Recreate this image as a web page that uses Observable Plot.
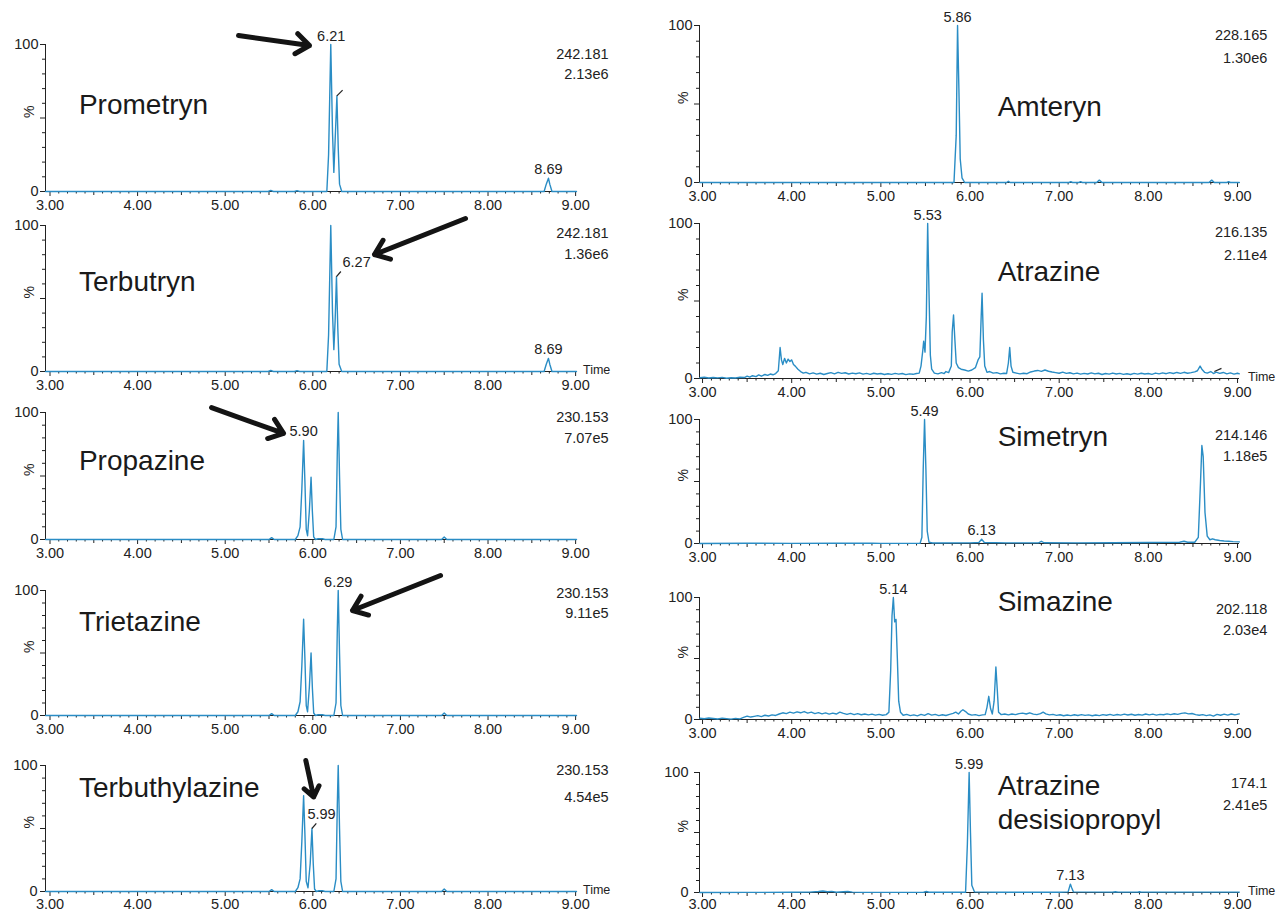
<!DOCTYPE html>
<html>
<head>
<meta charset="utf-8">
<script src="https://cdn.jsdelivr.net/npm/d3@7"></script>
<script src="https://cdn.jsdelivr.net/npm/@observablehq/plot@0.6"></script>
<style>
  body { margin: 0; background: #fff; }
  #chart { position: relative; width: 1278px; height: 915px; overflow: hidden; background: #fff; }
  #chart svg { position: absolute; overflow: visible; }
</style>
</head>
<body>
<div id="chart"></div>
<script>
// ---------------- DATA ----------------
const compounds = [["Prometryn"], ["Terbutryn"], ["Propazine"], ["Trietazine"], ["Terbuthylazine"],
                   ["Amteryn"], ["Atrazine"], ["Simetryn"], ["Simazine"], ["Atrazine", "desisiopropyl"]];
const mzValues = ["242.181", "242.181", "230.153", "230.153", "230.153", "228.165", "216.135", "214.146", "202.118", "174.1"];
const intensities = ["2.13e6", "1.36e6", "7.07e5", "9.11e5", "4.54e5", "1.30e6", "2.11e4", "1.18e5", "2.03e4", "2.41e5"];
const timeTicks = [3, 4, 5, 6, 7, 8, 9];
const percentTicks = [0, 100];

// traces: [retention time (min), relative intensity (%)]
const prometryn = [[2.95,0],[5.49,0],[5.52,0.7],[5.55,0],[5.79,0],[5.82,0.6],[5.85,0],[6.16,0],[6.18,25],[6.205,100],[6.225,40],[6.24,13],[6.255,35],[6.275,65],[6.29,30],[6.305,5],[6.33,0],[8.64,0],[8.665,5],[8.69,9],[8.705,5],[8.73,0],[9.01,0]];
const terbutryn = [[2.95,0],[5.49,0],[5.52,0.7],[5.55,0],[5.79,0],[5.82,0.6],[5.85,0],[6.16,0],[6.18,25],[6.205,100],[6.225,40],[6.24,15],[6.255,35],[6.27,65],[6.285,30],[6.30,5],[6.33,0],[8.64,0],[8.665,5],[8.69,9],[8.705,5],[8.73,0],[9.01,0]];
const propazine = [[2.95,0],[5.50,0],[5.53,1.5],[5.56,0],[5.80,0],[5.83,3],[5.855,10],[5.875,40],[5.895,78],[5.91,45],[5.925,8],[5.94,3],[5.96,22],[5.98,49],[5.995,22],[6.01,2],[6.03,0],[6.06,0.6],[6.11,0.6],[6.14,0],[6.24,0],[6.265,10],[6.28,70],[6.29,100],[6.305,50],[6.32,8],[6.34,0],[7.47,0],[7.50,2],[7.53,0],[9.01,0]];
const trietazine = [[2.95,0],[5.50,0],[5.53,1.5],[5.56,0],[5.80,0],[5.83,3],[5.855,11],[5.875,40],[5.895,77],[5.91,45],[5.925,8],[5.94,3],[5.96,22],[5.98,50],[5.995,22],[6.01,2],[6.03,0],[6.06,0.6],[6.11,0.6],[6.14,0],[6.24,0],[6.265,10],[6.28,70],[6.29,100],[6.305,50],[6.32,8],[6.34,0],[7.47,0],[7.50,2],[7.53,0],[9.01,0]];
const terbuthylazine = [[2.95,0],[5.50,0],[5.53,1.5],[5.56,0],[5.80,0],[5.83,3],[5.855,10],[5.875,40],[5.895,76],[5.91,45],[5.925,8],[5.945,3],[5.97,22],[5.99,50],[6.005,22],[6.02,2],[6.04,0],[6.07,0.6],[6.11,0.6],[6.14,0],[6.24,0],[6.265,10],[6.28,70],[6.29,100],[6.305,50],[6.32,8],[6.34,0],[7.47,0],[7.50,2],[7.53,0],[9.01,0]];
const amteryn = [[2.97,0],[5.82,0],[5.845,30],[5.86,100],[5.875,60],[5.89,15],[5.91,3],[5.94,0],[6.41,0],[6.43,0.8],[6.45,0],[7.11,0],[7.13,0.5],[7.15,0],[7.22,0],[7.24,0.5],[7.26,0],[7.42,0],[7.45,1.5],[7.48,0],[8.68,0],[8.71,1.5],[8.74,0],[8.88,0],[8.90,0.5],[8.92,0],[9.02,0]];
const atrazine = [[2.97,0.5],[3.02,0.8],[3.07,0.3],[3.12,0.6],[3.17,0.4],[3.22,0.7],[3.27,0.2],[3.32,0.5],[3.37,0.3],[3.42,0.8],[3.47,0.6],[3.50,1.5],[3.53,0.9],[3.56,1.8],[3.60,1.2],[3.63,2.3],[3.66,1.5],[3.70,2.6],[3.73,2.0],[3.76,2.9],[3.79,2.4],[3.82,3.2],[3.85,5],[3.87,20],[3.885,12],[3.90,9],[3.92,13],[3.94,10],[3.96,12.5],[3.98,11],[4.00,12],[4.02,9],[4.04,8],[4.07,6],[4.10,4.5],[4.13,3.5],[4.16,4],[4.20,3],[4.24,3.6],[4.28,2.8],[4.32,3.4],[4.36,2.6],[4.40,3.2],[4.44,3.8],[4.48,3],[4.52,4],[4.56,3.3],[4.60,3.7],[4.64,2.9],[4.68,3.5],[4.72,3.1],[4.76,3.6],[4.80,2.8],[4.84,3.3],[4.88,2.7],[4.92,3.4],[4.96,2.9],[5.00,3.2],[5.04,2.6],[5.08,3.1],[5.12,2.7],[5.16,3.3],[5.20,2.8],[5.24,3.2],[5.28,2.5],[5.32,3.0],[5.36,2.7],[5.40,3.2],[5.43,3.5],[5.45,8],[5.47,18],[5.48,24],[5.495,17],[5.51,40],[5.525,100],[5.54,55],[5.555,15],[5.57,6],[5.60,3.5],[5.64,3],[5.68,3.8],[5.71,3.2],[5.73,4.5],[5.76,3.8],[5.79,8],[5.80,30],[5.815,41],[5.83,25],[5.845,10],[5.87,7],[5.90,6],[5.94,5.5],[5.98,4.8],[6.02,5.5],[6.06,7],[6.09,12],[6.11,14],[6.125,40],[6.135,55],[6.15,25],[6.165,8],[6.19,4],[6.22,4.5],[6.26,3.5],[6.30,3.8],[6.34,3],[6.38,3.4],[6.41,3.2],[6.43,10],[6.445,20],[6.46,8],[6.48,4],[6.52,3.5],[6.56,3],[6.60,3.4],[6.64,3.1],[6.68,4.2],[6.72,4.8],[6.76,5.2],[6.80,4.6],[6.84,5.5],[6.88,4.7],[6.92,4.2],[6.96,3.8],[7.00,3.4],[7.04,4.1],[7.08,3.3],[7.12,3.7],[7.16,3],[7.20,3.5],[7.24,2.8],[7.28,3.3],[7.32,2.9],[7.36,3.6],[7.40,3],[7.44,3.4],[7.48,2.6],[7.52,3.2],[7.56,2.8],[7.60,3.5],[7.64,2.9],[7.68,3.3],[7.72,2.7],[7.76,3.1],[7.80,2.6],[7.84,3.3],[7.88,2.8],[7.92,3.4],[7.96,2.9],[8.00,3.2],[8.04,2.7],[8.08,3.5],[8.12,3.0],[8.16,3.6],[8.20,3.1],[8.24,3.8],[8.28,3.2],[8.32,3.9],[8.36,3.3],[8.40,4],[8.44,3.4],[8.48,3.8],[8.52,4.3],[8.55,5],[8.58,8],[8.60,6],[8.63,4],[8.66,3.5],[8.70,4.5],[8.73,3.2],[8.76,4.1],[8.80,3.3],[8.84,3.9],[8.88,3.0],[8.92,3.6],[8.96,2.8],[9.00,3.4],[9.02,3.0]];
const simetryn = [[2.97,0],[3.5,0.2],[4.0,0.1],[4.5,0.2],[4.9,0.3],[5.0,0.1],[5.44,0.2],[5.46,5],[5.475,60],[5.49,100],[5.505,60],[5.52,10],[5.54,1],[5.58,0.4],[6.0,0.5],[6.10,0.8],[6.13,3.5],[6.16,0.8],[6.4,0.5],[6.77,0.5],[6.80,1.8],[6.83,0.6],[7.2,0.5],[7.6,0.6],[8.0,0.8],[8.2,0.9],[8.35,1],[8.40,1.8],[8.44,1.0],[8.52,1],[8.56,5],[8.585,50],[8.60,79],[8.615,70],[8.635,25],[8.66,6],[8.69,3],[8.72,3.8],[8.75,3],[8.80,2.4],[8.85,2],[8.9,1.8],[8.95,1.5],[9.02,1.3]];
const simazine = [[2.97,1],[3.02,0.6],[3.07,1.2],[3.12,0.8],[3.17,0.4],[3.22,1.1],[3.27,0.7],[3.32,0.3],[3.37,0.9],[3.42,0.5],[3.46,1.8],[3.50,2.8],[3.54,2.0],[3.58,2.6],[3.62,3.2],[3.66,2.4],[3.70,3.5],[3.74,2.9],[3.78,3.8],[3.82,3.3],[3.86,4.5],[3.90,5.5],[3.94,4.8],[3.98,6],[4.02,5.2],[4.06,6.3],[4.10,5.5],[4.14,6.5],[4.18,5.2],[4.22,6],[4.26,4.8],[4.30,5.6],[4.34,4.6],[4.38,5.4],[4.42,4.4],[4.46,5.2],[4.50,4.5],[4.54,6],[4.58,5],[4.62,4.2],[4.66,5],[4.70,4],[4.74,4.8],[4.78,3.9],[4.82,4.5],[4.86,3.8],[4.90,4.4],[4.94,3.6],[4.98,4.2],[5.02,3.5],[5.06,4],[5.09,6],[5.11,40],[5.125,85],[5.14,100],[5.155,80],[5.17,82],[5.185,50],[5.20,15],[5.22,6],[5.25,3.5],[5.29,4.2],[5.33,3.2],[5.37,3.8],[5.41,3],[5.45,4.2],[5.49,3.4],[5.53,4.8],[5.57,3.6],[5.61,4.2],[5.65,3.2],[5.69,3.9],[5.73,3.3],[5.77,4.2],[5.81,5],[5.84,6],[5.87,4.5],[5.90,7],[5.92,8],[5.95,6.5],[5.98,4.5],[6.02,3.6],[6.06,4],[6.10,3.2],[6.14,3.8],[6.17,4],[6.19,10],[6.21,19],[6.23,9],[6.25,4.5],[6.27,15],[6.29,43],[6.305,25],[6.32,6],[6.35,4],[6.39,4.5],[6.43,3.8],[6.47,4.5],[6.51,4],[6.55,4.8],[6.59,5.2],[6.63,4.5],[6.67,5.5],[6.71,4.4],[6.75,4],[6.79,4.8],[6.82,6],[6.85,4.6],[6.89,3.8],[6.93,4.2],[6.97,3.4],[7.01,3.9],[7.05,3.1],[7.09,3.7],[7.13,3.2],[7.17,3.9],[7.21,3.3],[7.25,4],[7.29,3.4],[7.33,3.8],[7.37,3.1],[7.41,3.7],[7.45,3.2],[7.49,4],[7.53,3.5],[7.57,4.2],[7.61,3.4],[7.65,4.1],[7.69,3.6],[7.73,4.4],[7.77,3.7],[7.81,4.3],[7.85,3.5],[7.89,4.1],[7.93,3.6],[7.97,4.5],[8.01,3.8],[8.05,4.4],[8.09,3.6],[8.13,4.2],[8.17,3.9],[8.21,4.6],[8.25,4],[8.29,4.7],[8.33,4.2],[8.37,5],[8.41,5.4],[8.45,4.6],[8.49,4.9],[8.53,4],[8.57,3.5],[8.61,4],[8.65,3.2],[8.69,3.8],[8.73,2.8],[8.77,4.2],[8.81,3.5],[8.85,4.4],[8.89,3.6],[8.93,4.5],[8.97,3.8],[9.02,4.6]];
const atrazineDesisopropyl = [[2.97,0],[3.5,0.1],[4.0,0.2],[4.2,0.3],[4.3,0.8],[4.35,1.2],[4.40,0.6],[4.45,0.9],[4.5,0.2],[4.58,0.6],[4.63,0.8],[4.68,0.3],[4.8,0.1],[5.3,0.1],[5.48,0.2],[5.51,0.8],[5.54,0.2],[5.95,0.2],[5.97,40],[5.99,100],[6.005,50],[6.02,6],[6.05,0.5],[6.3,0.2],[7.0,0.2],[7.10,0.5],[7.125,7],[7.14,4],[7.16,0.5],[7.6,0.3],[7.63,0.6],[7.66,0.3],[7.88,0.3],[7.9,0.6],[7.92,0.3],[8.3,0.3],[9.02,0.3]];
const traces = [prometryn, terbutryn, propazine, trietazine, terbuthylazine, amteryn, atrazine, simetryn, simazine, atrazineDesisopropyl];

// apex labels: retention time, apex height, text
const peakLabels = [
  [{t: 6.21, v: 100, text: "6.21"}, {t: 8.69, v: 9, text: "8.69"}],
  [{t: 8.69, v: 9, text: "8.69"}],
  [{t: 5.895, v: 78, text: "5.90"}],
  [{t: 6.29, v: 100, text: "6.29"}],
  [],
  [{t: 5.86, v: 100, text: "5.86"}],
  [{t: 5.525, v: 100, text: "5.53"}],
  [{t: 5.49, v: 100, text: "5.49"}, {t: 6.13, v: 3.5, text: "6.13"}],
  [{t: 5.14, v: 100, text: "5.14"}],
  [{t: 5.99, v: 100, text: "5.99"}, {t: 7.125, v: 7, text: "7.13"}]
];
// labels attached with a small leader line
const leaderLabels = [
  {panel: 1, t: 6.50, v: 74.7, text: "6.27"},
  {panel: 4, t: 6.10, v: 61, text: "5.99"}
];

// ---------------- LAYOUT (positions / annotations) ----------------
const columns = [
  {left: 0, width: 640, axisLeft: 45, axisRight: 576, tMin: 2.9486, tMax: 9.01, mzT: 9.376, nameT: 3.33, timeT: 9.24},
  {left: 640, width: 638, axisLeft: 59, axisRight: 599, tMin: 2.966, tMax: 9.022, mzT: 9.334, nameT: 6.31, timeT: 9.27}
];
const panelLayout = [
  {col: 0, y100: 44, y0: 191, nameV: [58.5], mzV: [93, 79.6], time: false, pad: 3, ypad: 2},
  {col: 0, y100: 225, y0: 371, nameV: [61], mzV: [94.5, 80], time: true, pad: 3, ypad: 2},
  {col: 0, y100: 412, y0: 539, nameV: [62], mzV: [96, 79.5], time: false, pad: 3, ypad: 2},
  {col: 0, y100: 590, y0: 715, nameV: [74.4], mzV: [97.6, 81.6], time: false, pad: 3, ypad: 2},
  {col: 0, y100: 765, y0: 891, nameV: [82.5], mzV: [96, 74.6], time: true, pad: 2, ypad: 3},
  {col: 1, y100: 25, y0: 182, nameV: [47.8], mzV: [93.6, 79], time: false, pad: 3, ypad: 2},
  {col: 1, y100: 223, y0: 378, nameV: [68.4], mzV: [94, 79.4], time: true, pad: 3, ypad: 2},
  {col: 1, y100: 419, y0: 543, nameV: [85.5], mzV: [87, 70], time: false, pad: 3, ypad: 2},
  {col: 1, y100: 597, y0: 719, nameV: [96], mzV: [90, 73], time: false, pad: 3, ypad: 2},
  {col: 1, y100: 772, y0: 892, nameV: [89, 60.7], mzV: [91, 73], time: true, pad: 1.5, ypad: 6}
];
const arrows = [
  {panel: 0, t1: 5.152, v1: 106.1, t2: 5.962, v2: 99.3},
  {panel: 1, t1: 7.743, v1: 104.8, t2: 6.704, v2: 80.1},
  {panel: 2, t1: 4.844, v1: 103.9, t2: 5.666, v2: 83.5},
  {panel: 3, t1: 7.458, v1: 112, t2: 6.453, v2: 84},
  {panel: 4, t1: 5.92, v1: 104, t2: 6.01, v2: 75}
];
const leaders = [
  {panel: 0, t1: 6.275, v1: 65, t2: 6.34, v2: 69},
  {panel: 1, t1: 6.27, v1: 65, t2: 6.32, v2: 68.5},
  {panel: 4, t1: 5.99, v1: 50, t2: 6.04, v2: 54},
  {panel: 6, t1: 8.74, v1: 4.5, t2: 8.82, v2: 6.5}
];

// ---------------- DRAW ----------------
const chart = document.getElementById("chart");
const blue = "#2a8dc5";
const ink = "#222";
const font = "'Liberation Sans', Arial, Helvetica, sans-serif";
const xHalf = timeTicks.slice(0, -1).map(d => d + 0.5);
const xMinor = d3.range(30, 91).filter(d => d % 5 !== 0).map(d => d / 10);
const yMinor = [10, 20, 30, 40, 60, 70, 80, 90];

panelLayout.forEach((p, i) => {
  const c = columns[p.col];
  const mt = 36, mb = 22;
  const h = p.y0 - p.y100;
  const names = p.nameV.map((v, j) => ({t: c.nameT, v, text: compounds[i][j]}));
  const mz = [
    {t: c.mzT, v: p.mzV[0], text: mzValues[i]},
    {t: c.mzT, v: p.mzV[1], text: intensities[i]}
  ];
  const marks = [
    Plot.axisX(xMinor, {tickSize: 2.5, fill: "none", stroke: ink, label: null}),
    Plot.axisX(xHalf, {tickSize: 4, fill: "none", stroke: ink, label: null}),
    Plot.axisX(timeTicks, {tickSize: 5, tickPadding: p.pad, tickFormat: d => d.toFixed(2), fontSize: 14.5, fill: ink, stroke: ink, label: null}),
    Plot.axisY(yMinor, {tickSize: 3, fill: "none", stroke: ink, label: null}),
    Plot.axisY([50], {tickSize: 5, fill: "none", stroke: ink, label: null}),
    Plot.axisY(percentTicks, {tickSize: 5, tickPadding: p.ypad, fontSize: 14.5, fill: ink, stroke: ink, label: null}),
    Plot.ruleY([0], {stroke: ink, strokeWidth: 1}),
    Plot.ruleX([c.tMin], {stroke: ink, strokeWidth: 1}),
    Plot.text(["%"], {frameAnchor: "left", dx: -16, rotate: -90, fontSize: 14, fill: ink}),
    Plot.line(traces[i], {x: d => d[0], y: d => d[1], stroke: blue, strokeWidth: 1.4}),
    Plot.text(peakLabels[i], {x: "t", y: "v", text: "text", lineAnchor: "bottom", dy: -4, fontSize: 14.5, fill: ink}),
    Plot.text(leaderLabels.filter(d => d.panel === i), {x: "t", y: "v", text: "text", fontSize: 14.5, fill: ink}),
    Plot.link(leaders.filter(d => d.panel === i), {x1: "t1", y1: "v1", x2: "t2", y2: "v2", stroke: ink, strokeWidth: 1.2}),
    Plot.arrow(arrows.filter(d => d.panel === i), {x1: "t1", y1: "v1", x2: "t2", y2: "v2", stroke: "#141414", strokeWidth: 5, headLength: 5, headAngle: 75}),
    Plot.text(names, {x: "t", y: "v", text: "text", textAnchor: "start", fontSize: 28, fill: "#1a1a1a"}),
    Plot.text(mz, {x: "t", y: "v", text: "text", textAnchor: "end", fontSize: 14.5, fill: ink})
  ];
  if (p.time) {
    marks.push(Plot.text([{t: c.timeT, v: 0}], {x: "t", y: "v", text: () => "Time", lineAnchor: "bottom", dy: 2, fontSize: 12.5, fill: ink}));
  }
  const svg = Plot.plot({
    width: c.width,
    height: mt + h + mb,
    marginLeft: c.axisLeft,
    marginRight: c.width - c.axisRight,
    marginTop: mt,
    marginBottom: mb,
    x: {domain: [c.tMin, c.tMax]},
    y: {domain: [0, 100]},
    style: {fontFamily: font, background: "transparent", overflow: "visible", color: ink},
    marks
  });
  svg.style.left = c.left + "px";
  svg.style.top = (p.y100 - mt) + "px";
  chart.appendChild(svg);
});
</script>
</body>
</html>
